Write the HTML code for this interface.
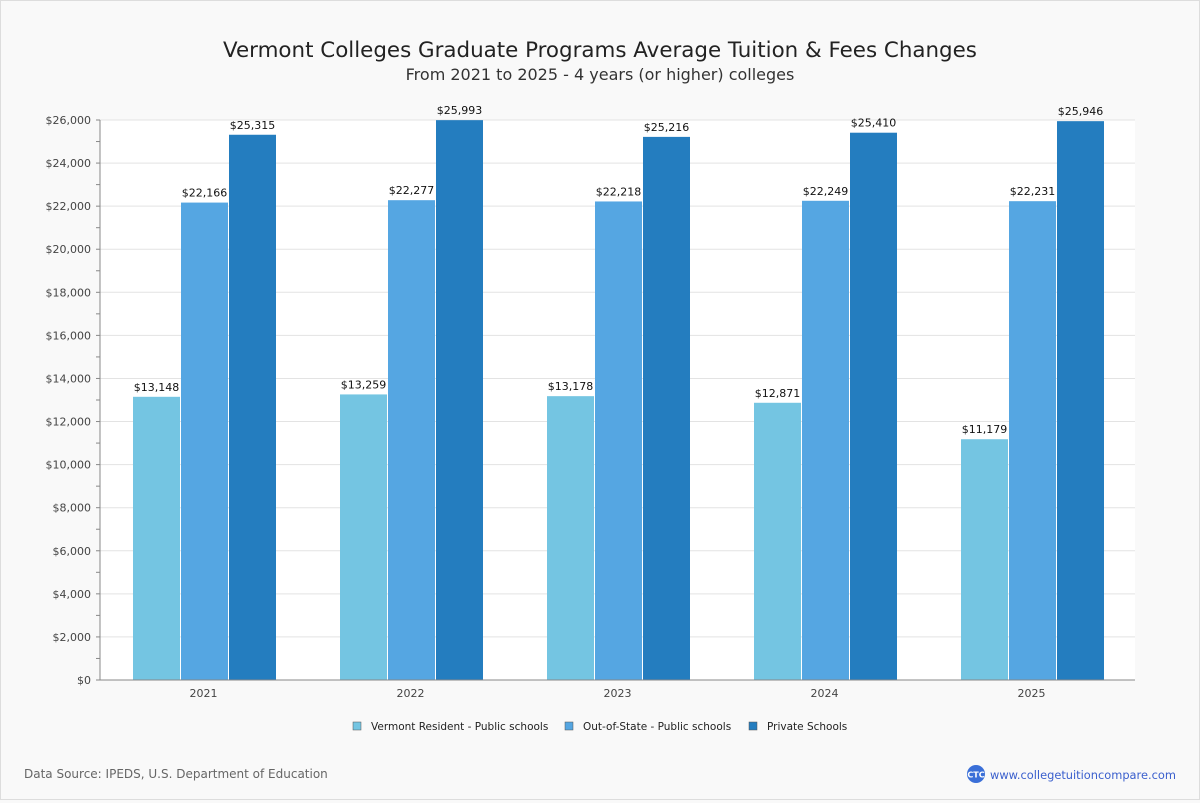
<!DOCTYPE html>
<html><head><meta charset="utf-8"><style>
body{margin:0;background:#f9f9f9;font-family:"DejaVu Sans","Liberation Sans",sans-serif}
#wrap{position:relative;width:1198px;height:798px;border:1px solid #ddd;background:#f9f9f9}
</style></head><body>
<div id="wrap">
<svg id="chart" width="1198" height="798">
<text x="599" y="56" text-anchor="middle" font-size="21.4" fill="#222">Vermont Colleges Graduate Programs Average Tuition &amp; Fees Changes</text>
<text x="599" y="79" text-anchor="middle" font-size="16" fill="#333">From 2021 to 2025 - 4 years (or higher) colleges</text>
<text x="23" y="777" font-size="12" fill="#666">Data Source: IPEDS, U.S. Department of Education</text>
<g>
<circle cx="975" cy="773" r="9" fill="#3a6fd8"/>
<text x="975" y="776.5" text-anchor="middle" font-size="8" font-weight="bold" fill="#fff">CTC</text>
<text x="989" y="778" font-size="11.4" fill="#3a5fcd">www.collegetuitioncompare.com</text>
</g>
</svg>
</div>
<script>
const categories=["2021","2022","2023","2024","2025"];
const seriesNames=["Vermont Resident - Public schools","Out-of-State - Public schools","Private Schools"];
const residentValues=[13148,13259,13178,12871,11179];
const outStateValues=[22166,22277,22218,22249,22231];
const privateValues=[25315,25993,25216,25410,25946];
const yTicks=[0,2000,4000,6000,8000,10000,12000,14000,16000,18000,20000,22000,24000,26000];
const colors=["#74c5e2","#55a6e2","#247dbf"];
const svg=document.getElementById('chart');const NS="http://www.w3.org/2000/svg";
const L=99,R=1134,T=119,B=679,ymax=26000;
const y=v=>B-(v/ymax)*(B-T);
const gw=(R-L)/categories.length;
const x=i=>L+gw*i+gw/2;
function mk(t,a,p){const e=document.createElementNS(NS,t);for(const k in a)e.setAttribute(k,a[k]);(p||svg).appendChild(e);return e;}
const plot=mk('rect',{x:L,y:T,width:R-L,height:B-T,fill:'#fff'});


yTicks.forEach(v=>{
 const g=mk('line',{x1:L,x2:R,y1:y(v),y2:y(v),stroke:'#e3e3e3'});
 
 
 const t=mk('text',{x:L-9,y:y(v)+4,'text-anchor':'end','font-size':11,fill:'#444'});
 t.textContent='$'+v.toLocaleString('en-US');
 
 
});
for(let v=0;v<=ymax;v+=1000){const m=mk('line',{x1:L-4,x2:L,y1:y(v),y2:y(v),stroke:'#888'});
 
 }
const series=[residentValues,outStateValues,privateValues];
const bw=47;
categories.forEach((c,i)=>{
 series.forEach((s,j)=>{
  const bx=x(i)-1.5*bw+j*(bw+1);
  const r=mk('rect',{x:bx,y:y(s[i]),width:bw,height:B-y(s[i]),fill:colors[j]});
  
  
  const t=mk('text',{x:bx+bw/2,y:y(s[i])-6,'text-anchor':'middle','font-size':11,fill:'#111'});
  t.textContent='$'+s[i].toLocaleString('en-US');
  
  
 });
 const t=mk('text',{x:x(i),y:B+17,'text-anchor':'middle','font-size':11,fill:'#444'});
 t.textContent=c;
 
 
});
const ax=mk('line',{x1:L,x2:L,y1:T,y2:B,stroke:'#888'});


const bx=mk('line',{x1:L,x2:R,y1:B,y2:B,stroke:'#888'});


const lx=[352,564,748];
seriesNames.forEach((n,j)=>{
 const g=mk('g',{});
 
 
 mk('rect',{x:lx[j],y:721,width:8,height:8,fill:colors[j],stroke:'#555','stroke-width':0.5},g);
 const t=mk('text',{x:lx[j]+18,y:729,'font-size':10.5,fill:'#222'},g);t.textContent=n;
});
</script>
</body></html>
